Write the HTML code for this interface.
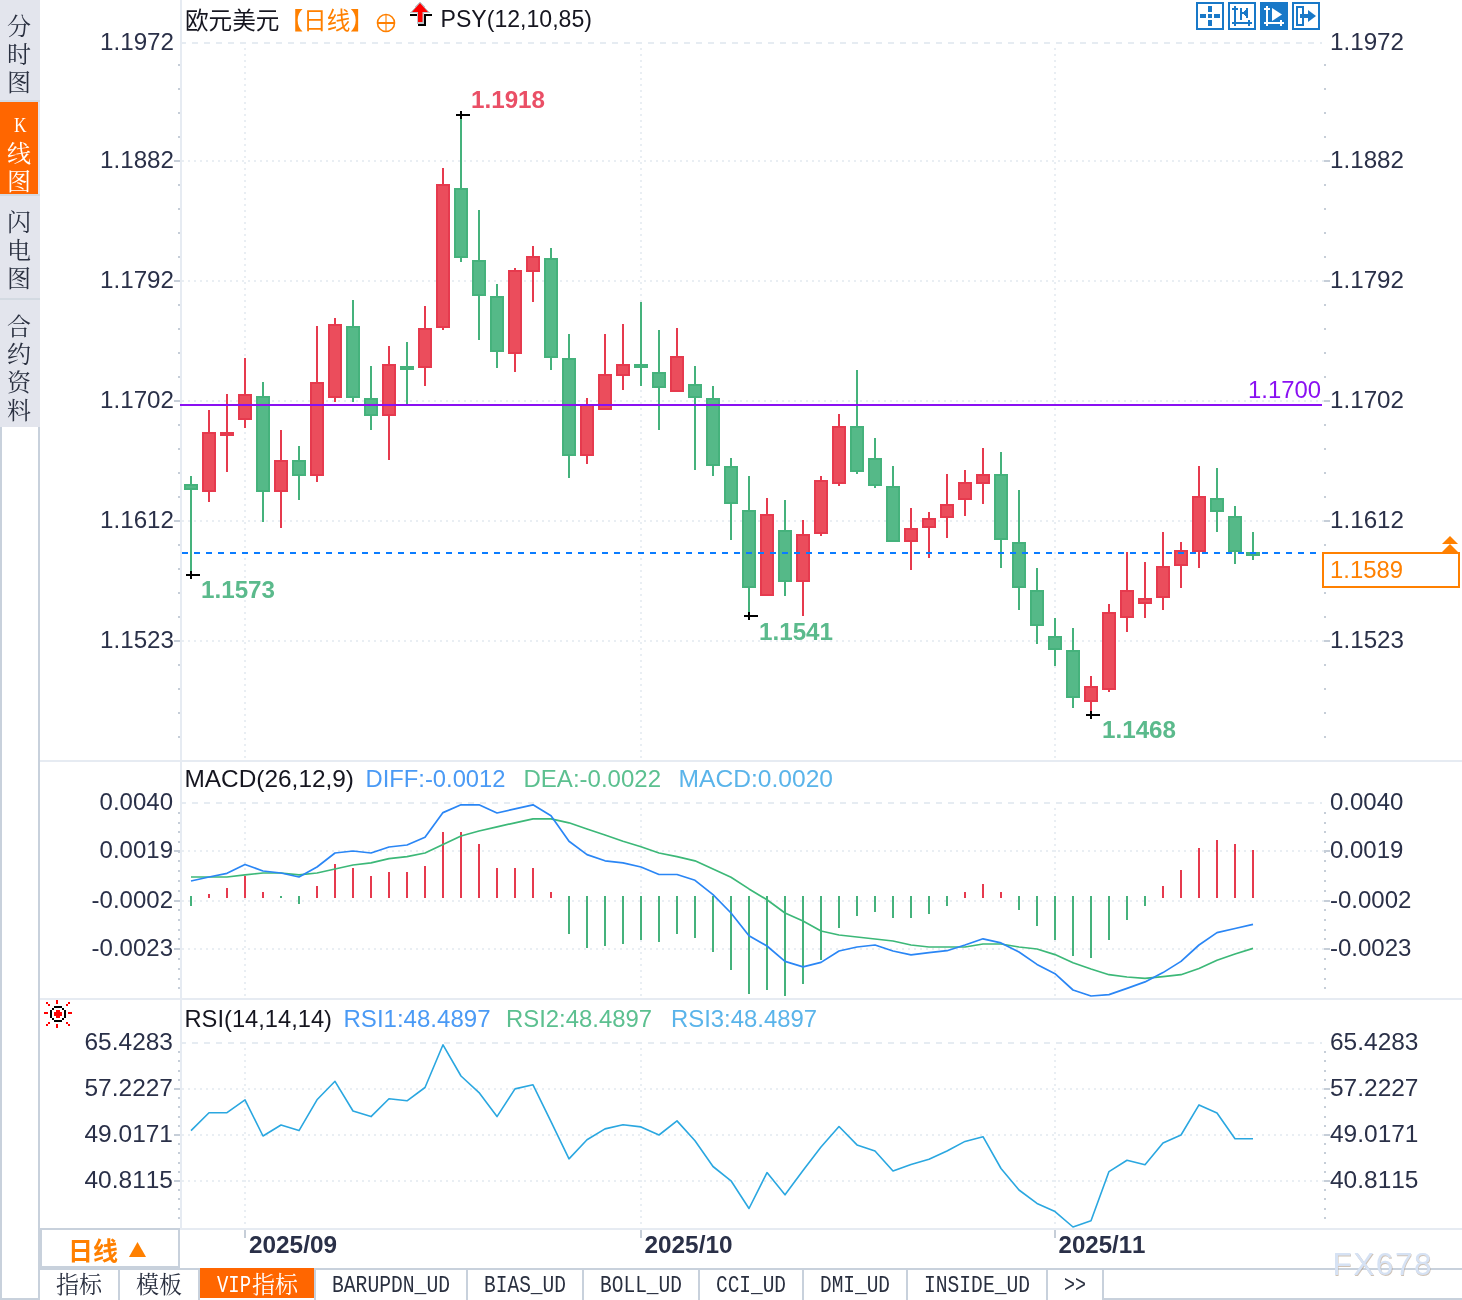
<!DOCTYPE html>
<html lang="zh-CN"><head><meta charset="utf-8"><title>欧元美元 日线</title>
<style>
html,body{margin:0;padding:0;background:#fff;}
body{width:1462px;height:1300px;overflow:hidden;}
svg{display:block;font-kerning:none;filter:blur(0.4px);}
text{font-kerning:none;white-space:pre;}
.ls{font-family:"Liberation Sans",sans-serif;}
.cjk{font-family:"Liberation Sans","Noto Sans CJK SC",sans-serif;}
.song{font-family:"Liberation Serif","Noto Serif CJK SC",serif;}
.mono{font-family:"Liberation Mono",monospace;}
</style></head><body>
<svg width="1462" height="1300" viewBox="0 0 1462 1300">
<rect x="0" y="0" width="1462" height="1300" fill="#ffffff"/>
<g shape-rendering="crispEdges">
<line x1="180" y1="43.0" x2="1322" y2="43.0" stroke="#e6ecf2" stroke-width="2" stroke-dasharray="6 6"/>
<line x1="182" y1="161.0" x2="1324" y2="161.0" stroke="#e9eef3" stroke-width="2" stroke-dasharray="2 4"/>
<line x1="182" y1="281.0" x2="1324" y2="281.0" stroke="#e9eef3" stroke-width="2" stroke-dasharray="2 4"/>
<line x1="182" y1="401.0" x2="1324" y2="401.0" stroke="#e9eef3" stroke-width="2" stroke-dasharray="2 4"/>
<line x1="182" y1="521.0" x2="1324" y2="521.0" stroke="#e9eef3" stroke-width="2" stroke-dasharray="2 4"/>
<line x1="182" y1="641.0" x2="1324" y2="641.0" stroke="#e9eef3" stroke-width="2" stroke-dasharray="2 4"/>
<line x1="180" y1="803.0" x2="1322" y2="803.0" stroke="#e6ecf2" stroke-width="2" stroke-dasharray="6 6"/>
<line x1="182" y1="851.0" x2="1324" y2="851.0" stroke="#e9eef3" stroke-width="2" stroke-dasharray="2 4"/>
<line x1="182" y1="901.0" x2="1324" y2="901.0" stroke="#e9eef3" stroke-width="2" stroke-dasharray="2 4"/>
<line x1="182" y1="949.0" x2="1324" y2="949.0" stroke="#e9eef3" stroke-width="2" stroke-dasharray="2 4"/>
<line x1="180" y1="1043.0" x2="1322" y2="1043.0" stroke="#e6ecf2" stroke-width="2" stroke-dasharray="6 6"/>
<line x1="182" y1="1089.0" x2="1324" y2="1089.0" stroke="#e9eef3" stroke-width="2" stroke-dasharray="2 4"/>
<line x1="182" y1="1135.0" x2="1324" y2="1135.0" stroke="#e9eef3" stroke-width="2" stroke-dasharray="2 4"/>
<line x1="182" y1="1181.0" x2="1324" y2="1181.0" stroke="#e9eef3" stroke-width="2" stroke-dasharray="2 4"/>
<line x1="245" y1="48" x2="245" y2="760" stroke="#e9eef3" stroke-width="2" stroke-dasharray="2 4"/>
<line x1="245" y1="808" x2="245" y2="998" stroke="#e9eef3" stroke-width="2" stroke-dasharray="2 4"/>
<line x1="245" y1="1048" x2="245" y2="1228" stroke="#e9eef3" stroke-width="2" stroke-dasharray="2 4"/>
<line x1="641" y1="48" x2="641" y2="760" stroke="#e9eef3" stroke-width="2" stroke-dasharray="2 4"/>
<line x1="641" y1="808" x2="641" y2="998" stroke="#e9eef3" stroke-width="2" stroke-dasharray="2 4"/>
<line x1="641" y1="1048" x2="641" y2="1228" stroke="#e9eef3" stroke-width="2" stroke-dasharray="2 4"/>
<line x1="1055" y1="48" x2="1055" y2="760" stroke="#e9eef3" stroke-width="2" stroke-dasharray="2 4"/>
<line x1="1055" y1="808" x2="1055" y2="998" stroke="#e9eef3" stroke-width="2" stroke-dasharray="2 4"/>
<line x1="1055" y1="1048" x2="1055" y2="1228" stroke="#e9eef3" stroke-width="2" stroke-dasharray="2 4"/>
<rect x="40" y="760" width="1422" height="2" fill="#e6ebf2"/>
<rect x="40" y="998" width="1422" height="2" fill="#e6ebf2"/>
<rect x="180" y="1228" width="1282" height="2" fill="#e6ebf2"/>
<rect x="180" y="0" width="2" height="1230" fill="#e6ebf2"/>
<rect x="178" y="64" width="2" height="2" fill="#c6ced8"/>
<rect x="1324" y="64" width="2" height="2" fill="#c6ced8"/>
<rect x="178" y="88" width="2" height="2" fill="#c6ced8"/>
<rect x="1324" y="88" width="2" height="2" fill="#c6ced8"/>
<rect x="178" y="112" width="2" height="2" fill="#c6ced8"/>
<rect x="1324" y="112" width="2" height="2" fill="#c6ced8"/>
<rect x="178" y="136" width="2" height="2" fill="#c6ced8"/>
<rect x="1324" y="136" width="2" height="2" fill="#c6ced8"/>
<rect x="178" y="160" width="2" height="2" fill="#c6ced8"/>
<rect x="1324" y="160" width="2" height="2" fill="#c6ced8"/>
<rect x="178" y="184" width="2" height="2" fill="#c6ced8"/>
<rect x="1324" y="184" width="2" height="2" fill="#c6ced8"/>
<rect x="178" y="208" width="2" height="2" fill="#c6ced8"/>
<rect x="1324" y="208" width="2" height="2" fill="#c6ced8"/>
<rect x="178" y="232" width="2" height="2" fill="#c6ced8"/>
<rect x="1324" y="232" width="2" height="2" fill="#c6ced8"/>
<rect x="178" y="256" width="2" height="2" fill="#c6ced8"/>
<rect x="1324" y="256" width="2" height="2" fill="#c6ced8"/>
<rect x="178" y="280" width="2" height="2" fill="#c6ced8"/>
<rect x="1324" y="280" width="2" height="2" fill="#c6ced8"/>
<rect x="178" y="304" width="2" height="2" fill="#c6ced8"/>
<rect x="1324" y="304" width="2" height="2" fill="#c6ced8"/>
<rect x="178" y="328" width="2" height="2" fill="#c6ced8"/>
<rect x="1324" y="328" width="2" height="2" fill="#c6ced8"/>
<rect x="178" y="352" width="2" height="2" fill="#c6ced8"/>
<rect x="1324" y="352" width="2" height="2" fill="#c6ced8"/>
<rect x="178" y="376" width="2" height="2" fill="#c6ced8"/>
<rect x="1324" y="376" width="2" height="2" fill="#c6ced8"/>
<rect x="178" y="400" width="2" height="2" fill="#c6ced8"/>
<rect x="1324" y="400" width="2" height="2" fill="#c6ced8"/>
<rect x="178" y="424" width="2" height="2" fill="#c6ced8"/>
<rect x="1324" y="424" width="2" height="2" fill="#c6ced8"/>
<rect x="178" y="448" width="2" height="2" fill="#c6ced8"/>
<rect x="1324" y="448" width="2" height="2" fill="#c6ced8"/>
<rect x="178" y="472" width="2" height="2" fill="#c6ced8"/>
<rect x="1324" y="472" width="2" height="2" fill="#c6ced8"/>
<rect x="178" y="496" width="2" height="2" fill="#c6ced8"/>
<rect x="1324" y="496" width="2" height="2" fill="#c6ced8"/>
<rect x="178" y="520" width="2" height="2" fill="#c6ced8"/>
<rect x="1324" y="520" width="2" height="2" fill="#c6ced8"/>
<rect x="178" y="544" width="2" height="2" fill="#c6ced8"/>
<rect x="1324" y="544" width="2" height="2" fill="#c6ced8"/>
<rect x="178" y="568" width="2" height="2" fill="#c6ced8"/>
<rect x="1324" y="568" width="2" height="2" fill="#c6ced8"/>
<rect x="178" y="592" width="2" height="2" fill="#c6ced8"/>
<rect x="1324" y="592" width="2" height="2" fill="#c6ced8"/>
<rect x="178" y="616" width="2" height="2" fill="#c6ced8"/>
<rect x="1324" y="616" width="2" height="2" fill="#c6ced8"/>
<rect x="178" y="640" width="2" height="2" fill="#c6ced8"/>
<rect x="1324" y="640" width="2" height="2" fill="#c6ced8"/>
<rect x="178" y="664" width="2" height="2" fill="#c6ced8"/>
<rect x="1324" y="664" width="2" height="2" fill="#c6ced8"/>
<rect x="178" y="688" width="2" height="2" fill="#c6ced8"/>
<rect x="1324" y="688" width="2" height="2" fill="#c6ced8"/>
<rect x="178" y="712" width="2" height="2" fill="#c6ced8"/>
<rect x="1324" y="712" width="2" height="2" fill="#c6ced8"/>
<rect x="178" y="736" width="2" height="2" fill="#c6ced8"/>
<rect x="1324" y="736" width="2" height="2" fill="#c6ced8"/>
<rect x="174" y="160" width="6" height="2" fill="#c6ced8"/>
<rect x="1324" y="160" width="6" height="2" fill="#c6ced8"/>
<rect x="174" y="280" width="6" height="2" fill="#c6ced8"/>
<rect x="1324" y="280" width="6" height="2" fill="#c6ced8"/>
<rect x="174" y="400" width="6" height="2" fill="#c6ced8"/>
<rect x="1324" y="400" width="6" height="2" fill="#c6ced8"/>
<rect x="174" y="520" width="6" height="2" fill="#c6ced8"/>
<rect x="1324" y="520" width="6" height="2" fill="#c6ced8"/>
<rect x="174" y="640" width="6" height="2" fill="#c6ced8"/>
<rect x="1324" y="640" width="6" height="2" fill="#c6ced8"/>
<rect x="178" y="812" width="2" height="2" fill="#c6ced8"/>
<rect x="1324" y="812" width="2" height="2" fill="#c6ced8"/>
<rect x="178" y="822" width="2" height="2" fill="#c6ced8"/>
<rect x="1324" y="822" width="2" height="2" fill="#c6ced8"/>
<rect x="178" y="831" width="2" height="2" fill="#c6ced8"/>
<rect x="1324" y="831" width="2" height="2" fill="#c6ced8"/>
<rect x="178" y="841" width="2" height="2" fill="#c6ced8"/>
<rect x="1324" y="841" width="2" height="2" fill="#c6ced8"/>
<rect x="178" y="851" width="2" height="2" fill="#c6ced8"/>
<rect x="1324" y="851" width="2" height="2" fill="#c6ced8"/>
<rect x="178" y="860" width="2" height="2" fill="#c6ced8"/>
<rect x="1324" y="860" width="2" height="2" fill="#c6ced8"/>
<rect x="178" y="870" width="2" height="2" fill="#c6ced8"/>
<rect x="1324" y="870" width="2" height="2" fill="#c6ced8"/>
<rect x="178" y="880" width="2" height="2" fill="#c6ced8"/>
<rect x="1324" y="880" width="2" height="2" fill="#c6ced8"/>
<rect x="178" y="890" width="2" height="2" fill="#c6ced8"/>
<rect x="1324" y="890" width="2" height="2" fill="#c6ced8"/>
<rect x="178" y="900" width="2" height="2" fill="#c6ced8"/>
<rect x="1324" y="900" width="2" height="2" fill="#c6ced8"/>
<rect x="178" y="909" width="2" height="2" fill="#c6ced8"/>
<rect x="1324" y="909" width="2" height="2" fill="#c6ced8"/>
<rect x="178" y="919" width="2" height="2" fill="#c6ced8"/>
<rect x="1324" y="919" width="2" height="2" fill="#c6ced8"/>
<rect x="178" y="929" width="2" height="2" fill="#c6ced8"/>
<rect x="1324" y="929" width="2" height="2" fill="#c6ced8"/>
<rect x="178" y="938" width="2" height="2" fill="#c6ced8"/>
<rect x="1324" y="938" width="2" height="2" fill="#c6ced8"/>
<rect x="178" y="948" width="2" height="2" fill="#c6ced8"/>
<rect x="1324" y="948" width="2" height="2" fill="#c6ced8"/>
<rect x="178" y="958" width="2" height="2" fill="#c6ced8"/>
<rect x="1324" y="958" width="2" height="2" fill="#c6ced8"/>
<rect x="178" y="968" width="2" height="2" fill="#c6ced8"/>
<rect x="1324" y="968" width="2" height="2" fill="#c6ced8"/>
<rect x="178" y="978" width="2" height="2" fill="#c6ced8"/>
<rect x="1324" y="978" width="2" height="2" fill="#c6ced8"/>
<rect x="178" y="987" width="2" height="2" fill="#c6ced8"/>
<rect x="1324" y="987" width="2" height="2" fill="#c6ced8"/>
<rect x="174" y="850" width="6" height="2" fill="#c6ced8"/>
<rect x="1324" y="850" width="6" height="2" fill="#c6ced8"/>
<rect x="174" y="900" width="6" height="2" fill="#c6ced8"/>
<rect x="1324" y="900" width="6" height="2" fill="#c6ced8"/>
<rect x="174" y="948" width="6" height="2" fill="#c6ced8"/>
<rect x="1324" y="948" width="6" height="2" fill="#c6ced8"/>
<rect x="178" y="1051" width="2" height="2" fill="#c6ced8"/>
<rect x="1324" y="1051" width="2" height="2" fill="#c6ced8"/>
<rect x="178" y="1060" width="2" height="2" fill="#c6ced8"/>
<rect x="1324" y="1060" width="2" height="2" fill="#c6ced8"/>
<rect x="178" y="1070" width="2" height="2" fill="#c6ced8"/>
<rect x="1324" y="1070" width="2" height="2" fill="#c6ced8"/>
<rect x="178" y="1079" width="2" height="2" fill="#c6ced8"/>
<rect x="1324" y="1079" width="2" height="2" fill="#c6ced8"/>
<rect x="178" y="1088" width="2" height="2" fill="#c6ced8"/>
<rect x="1324" y="1088" width="2" height="2" fill="#c6ced8"/>
<rect x="178" y="1097" width="2" height="2" fill="#c6ced8"/>
<rect x="1324" y="1097" width="2" height="2" fill="#c6ced8"/>
<rect x="178" y="1106" width="2" height="2" fill="#c6ced8"/>
<rect x="1324" y="1106" width="2" height="2" fill="#c6ced8"/>
<rect x="178" y="1116" width="2" height="2" fill="#c6ced8"/>
<rect x="1324" y="1116" width="2" height="2" fill="#c6ced8"/>
<rect x="178" y="1125" width="2" height="2" fill="#c6ced8"/>
<rect x="1324" y="1125" width="2" height="2" fill="#c6ced8"/>
<rect x="178" y="1134" width="2" height="2" fill="#c6ced8"/>
<rect x="1324" y="1134" width="2" height="2" fill="#c6ced8"/>
<rect x="178" y="1143" width="2" height="2" fill="#c6ced8"/>
<rect x="1324" y="1143" width="2" height="2" fill="#c6ced8"/>
<rect x="178" y="1152" width="2" height="2" fill="#c6ced8"/>
<rect x="1324" y="1152" width="2" height="2" fill="#c6ced8"/>
<rect x="178" y="1162" width="2" height="2" fill="#c6ced8"/>
<rect x="1324" y="1162" width="2" height="2" fill="#c6ced8"/>
<rect x="178" y="1171" width="2" height="2" fill="#c6ced8"/>
<rect x="1324" y="1171" width="2" height="2" fill="#c6ced8"/>
<rect x="178" y="1180" width="2" height="2" fill="#c6ced8"/>
<rect x="1324" y="1180" width="2" height="2" fill="#c6ced8"/>
<rect x="178" y="1189" width="2" height="2" fill="#c6ced8"/>
<rect x="1324" y="1189" width="2" height="2" fill="#c6ced8"/>
<rect x="178" y="1198" width="2" height="2" fill="#c6ced8"/>
<rect x="1324" y="1198" width="2" height="2" fill="#c6ced8"/>
<rect x="178" y="1208" width="2" height="2" fill="#c6ced8"/>
<rect x="1324" y="1208" width="2" height="2" fill="#c6ced8"/>
<rect x="178" y="1217" width="2" height="2" fill="#c6ced8"/>
<rect x="1324" y="1217" width="2" height="2" fill="#c6ced8"/>
<rect x="174" y="1088" width="6" height="2" fill="#c6ced8"/>
<rect x="1324" y="1088" width="6" height="2" fill="#c6ced8"/>
<rect x="174" y="1134" width="6" height="2" fill="#c6ced8"/>
<rect x="1324" y="1134" width="6" height="2" fill="#c6ced8"/>
<rect x="174" y="1180" width="6" height="2" fill="#c6ced8"/>
<rect x="1324" y="1180" width="6" height="2" fill="#c6ced8"/>
</g>
<g shape-rendering="crispEdges">
<rect x="190" y="476" width="2" height="99" fill="#45b27c"/>
<rect x="185" y="485" width="12" height="4" fill="#55b988" stroke="#45b27c" stroke-width="2"/>
<rect x="208" y="410" width="2" height="92" fill="#e63a4e"/>
<rect x="203" y="433" width="12" height="58" fill="#eb4d5c" stroke="#e63a4e" stroke-width="2"/>
<rect x="226" y="394" width="2" height="78" fill="#e63a4e"/>
<rect x="221" y="433" width="12" height="2" fill="#eb4d5c" stroke="#e63a4e" stroke-width="2"/>
<rect x="244" y="358" width="2" height="70" fill="#e63a4e"/>
<rect x="239" y="395" width="12" height="24" fill="#eb4d5c" stroke="#e63a4e" stroke-width="2"/>
<rect x="262" y="382" width="2" height="140" fill="#45b27c"/>
<rect x="257" y="397" width="12" height="94" fill="#55b988" stroke="#45b27c" stroke-width="2"/>
<rect x="280" y="430" width="2" height="98" fill="#e63a4e"/>
<rect x="275" y="461" width="12" height="30" fill="#eb4d5c" stroke="#e63a4e" stroke-width="2"/>
<rect x="298" y="446" width="2" height="54" fill="#45b27c"/>
<rect x="293" y="461" width="12" height="14" fill="#55b988" stroke="#45b27c" stroke-width="2"/>
<rect x="316" y="326" width="2" height="156" fill="#e63a4e"/>
<rect x="311" y="383" width="12" height="92" fill="#eb4d5c" stroke="#e63a4e" stroke-width="2"/>
<rect x="334" y="318" width="2" height="84" fill="#e63a4e"/>
<rect x="329" y="325" width="12" height="72" fill="#eb4d5c" stroke="#e63a4e" stroke-width="2"/>
<rect x="352" y="300" width="2" height="102" fill="#45b27c"/>
<rect x="347" y="327" width="12" height="70" fill="#55b988" stroke="#45b27c" stroke-width="2"/>
<rect x="370" y="366" width="2" height="64" fill="#45b27c"/>
<rect x="365" y="399" width="12" height="16" fill="#55b988" stroke="#45b27c" stroke-width="2"/>
<rect x="388" y="346" width="2" height="114" fill="#e63a4e"/>
<rect x="383" y="365" width="12" height="50" fill="#eb4d5c" stroke="#e63a4e" stroke-width="2"/>
<rect x="406" y="342" width="2" height="62" fill="#45b27c"/>
<rect x="401" y="367" width="12" height="2" fill="#55b988" stroke="#45b27c" stroke-width="2"/>
<rect x="424" y="306" width="2" height="80" fill="#e63a4e"/>
<rect x="419" y="329" width="12" height="38" fill="#eb4d5c" stroke="#e63a4e" stroke-width="2"/>
<rect x="442" y="168" width="2" height="162" fill="#e63a4e"/>
<rect x="437" y="185" width="12" height="142" fill="#eb4d5c" stroke="#e63a4e" stroke-width="2"/>
<rect x="460" y="115" width="2" height="147" fill="#45b27c"/>
<rect x="455" y="189" width="12" height="68" fill="#55b988" stroke="#45b27c" stroke-width="2"/>
<rect x="478" y="210" width="2" height="130" fill="#45b27c"/>
<rect x="473" y="261" width="12" height="34" fill="#55b988" stroke="#45b27c" stroke-width="2"/>
<rect x="496" y="284" width="2" height="84" fill="#45b27c"/>
<rect x="491" y="297" width="12" height="54" fill="#55b988" stroke="#45b27c" stroke-width="2"/>
<rect x="514" y="268" width="2" height="104" fill="#e63a4e"/>
<rect x="509" y="271" width="12" height="82" fill="#eb4d5c" stroke="#e63a4e" stroke-width="2"/>
<rect x="532" y="246" width="2" height="56" fill="#e63a4e"/>
<rect x="527" y="257" width="12" height="14" fill="#eb4d5c" stroke="#e63a4e" stroke-width="2"/>
<rect x="550" y="248" width="2" height="122" fill="#45b27c"/>
<rect x="545" y="259" width="12" height="98" fill="#55b988" stroke="#45b27c" stroke-width="2"/>
<rect x="568" y="334" width="2" height="144" fill="#45b27c"/>
<rect x="563" y="359" width="12" height="96" fill="#55b988" stroke="#45b27c" stroke-width="2"/>
<rect x="586" y="398" width="2" height="66" fill="#e63a4e"/>
<rect x="581" y="405" width="12" height="50" fill="#eb4d5c" stroke="#e63a4e" stroke-width="2"/>
<rect x="604" y="334" width="2" height="76" fill="#e63a4e"/>
<rect x="599" y="375" width="12" height="34" fill="#eb4d5c" stroke="#e63a4e" stroke-width="2"/>
<rect x="622" y="324" width="2" height="66" fill="#e63a4e"/>
<rect x="617" y="365" width="12" height="10" fill="#eb4d5c" stroke="#e63a4e" stroke-width="2"/>
<rect x="640" y="302" width="2" height="84" fill="#45b27c"/>
<rect x="635" y="365" width="12" height="2" fill="#55b988" stroke="#45b27c" stroke-width="2"/>
<rect x="658" y="330" width="2" height="100" fill="#45b27c"/>
<rect x="653" y="373" width="12" height="14" fill="#55b988" stroke="#45b27c" stroke-width="2"/>
<rect x="676" y="328" width="2" height="64" fill="#e63a4e"/>
<rect x="671" y="357" width="12" height="34" fill="#eb4d5c" stroke="#e63a4e" stroke-width="2"/>
<rect x="694" y="366" width="2" height="104" fill="#45b27c"/>
<rect x="689" y="385" width="12" height="12" fill="#55b988" stroke="#45b27c" stroke-width="2"/>
<rect x="712" y="386" width="2" height="90" fill="#45b27c"/>
<rect x="707" y="399" width="12" height="66" fill="#55b988" stroke="#45b27c" stroke-width="2"/>
<rect x="730" y="458" width="2" height="82" fill="#45b27c"/>
<rect x="725" y="467" width="12" height="36" fill="#55b988" stroke="#45b27c" stroke-width="2"/>
<rect x="748" y="476" width="2" height="140" fill="#45b27c"/>
<rect x="743" y="511" width="12" height="76" fill="#55b988" stroke="#45b27c" stroke-width="2"/>
<rect x="766" y="498" width="2" height="98" fill="#e63a4e"/>
<rect x="761" y="515" width="12" height="80" fill="#eb4d5c" stroke="#e63a4e" stroke-width="2"/>
<rect x="784" y="500" width="2" height="96" fill="#45b27c"/>
<rect x="779" y="531" width="12" height="50" fill="#55b988" stroke="#45b27c" stroke-width="2"/>
<rect x="802" y="520" width="2" height="96" fill="#e63a4e"/>
<rect x="797" y="535" width="12" height="46" fill="#eb4d5c" stroke="#e63a4e" stroke-width="2"/>
<rect x="820" y="476" width="2" height="60" fill="#e63a4e"/>
<rect x="815" y="481" width="12" height="52" fill="#eb4d5c" stroke="#e63a4e" stroke-width="2"/>
<rect x="838" y="414" width="2" height="72" fill="#e63a4e"/>
<rect x="833" y="427" width="12" height="56" fill="#eb4d5c" stroke="#e63a4e" stroke-width="2"/>
<rect x="856" y="370" width="2" height="104" fill="#45b27c"/>
<rect x="851" y="427" width="12" height="44" fill="#55b988" stroke="#45b27c" stroke-width="2"/>
<rect x="874" y="438" width="2" height="50" fill="#45b27c"/>
<rect x="869" y="459" width="12" height="26" fill="#55b988" stroke="#45b27c" stroke-width="2"/>
<rect x="892" y="466" width="2" height="76" fill="#45b27c"/>
<rect x="887" y="487" width="12" height="54" fill="#55b988" stroke="#45b27c" stroke-width="2"/>
<rect x="910" y="508" width="2" height="62" fill="#e63a4e"/>
<rect x="905" y="529" width="12" height="12" fill="#eb4d5c" stroke="#e63a4e" stroke-width="2"/>
<rect x="928" y="512" width="2" height="46" fill="#e63a4e"/>
<rect x="923" y="519" width="12" height="8" fill="#eb4d5c" stroke="#e63a4e" stroke-width="2"/>
<rect x="946" y="474" width="2" height="64" fill="#e63a4e"/>
<rect x="941" y="505" width="12" height="12" fill="#eb4d5c" stroke="#e63a4e" stroke-width="2"/>
<rect x="964" y="470" width="2" height="46" fill="#e63a4e"/>
<rect x="959" y="483" width="12" height="16" fill="#eb4d5c" stroke="#e63a4e" stroke-width="2"/>
<rect x="982" y="448" width="2" height="56" fill="#e63a4e"/>
<rect x="977" y="475" width="12" height="8" fill="#eb4d5c" stroke="#e63a4e" stroke-width="2"/>
<rect x="1000" y="452" width="2" height="116" fill="#45b27c"/>
<rect x="995" y="475" width="12" height="64" fill="#55b988" stroke="#45b27c" stroke-width="2"/>
<rect x="1018" y="490" width="2" height="120" fill="#45b27c"/>
<rect x="1013" y="543" width="12" height="44" fill="#55b988" stroke="#45b27c" stroke-width="2"/>
<rect x="1036" y="568" width="2" height="76" fill="#45b27c"/>
<rect x="1031" y="591" width="12" height="34" fill="#55b988" stroke="#45b27c" stroke-width="2"/>
<rect x="1054" y="618" width="2" height="48" fill="#45b27c"/>
<rect x="1049" y="637" width="12" height="12" fill="#55b988" stroke="#45b27c" stroke-width="2"/>
<rect x="1072" y="628" width="2" height="80" fill="#45b27c"/>
<rect x="1067" y="651" width="12" height="46" fill="#55b988" stroke="#45b27c" stroke-width="2"/>
<rect x="1090" y="676" width="2" height="39" fill="#e63a4e"/>
<rect x="1085" y="687" width="12" height="14" fill="#eb4d5c" stroke="#e63a4e" stroke-width="2"/>
<rect x="1108" y="604" width="2" height="88" fill="#e63a4e"/>
<rect x="1103" y="613" width="12" height="76" fill="#eb4d5c" stroke="#e63a4e" stroke-width="2"/>
<rect x="1126" y="552" width="2" height="80" fill="#e63a4e"/>
<rect x="1121" y="591" width="12" height="26" fill="#eb4d5c" stroke="#e63a4e" stroke-width="2"/>
<rect x="1144" y="562" width="2" height="56" fill="#e63a4e"/>
<rect x="1139" y="599" width="12" height="4" fill="#eb4d5c" stroke="#e63a4e" stroke-width="2"/>
<rect x="1162" y="532" width="2" height="78" fill="#e63a4e"/>
<rect x="1157" y="567" width="12" height="30" fill="#eb4d5c" stroke="#e63a4e" stroke-width="2"/>
<rect x="1180" y="542" width="2" height="46" fill="#e63a4e"/>
<rect x="1175" y="551" width="12" height="14" fill="#eb4d5c" stroke="#e63a4e" stroke-width="2"/>
<rect x="1198" y="466" width="2" height="102" fill="#e63a4e"/>
<rect x="1193" y="497" width="12" height="54" fill="#eb4d5c" stroke="#e63a4e" stroke-width="2"/>
<rect x="1216" y="468" width="2" height="64" fill="#45b27c"/>
<rect x="1211" y="499" width="12" height="12" fill="#55b988" stroke="#45b27c" stroke-width="2"/>
<rect x="1234" y="506" width="2" height="58" fill="#45b27c"/>
<rect x="1229" y="517" width="12" height="34" fill="#55b988" stroke="#45b27c" stroke-width="2"/>
<rect x="1252" y="532" width="2" height="28" fill="#45b27c"/>
<rect x="1247" y="553" width="12" height="2" fill="#55b988" stroke="#45b27c" stroke-width="2"/>
</g>
<g shape-rendering="crispEdges">
<rect x="180" y="404" width="1142" height="2" fill="#8a10f2"/>
<line x1="182" y1="553.0" x2="1322" y2="553.0" stroke="#0a7cff" stroke-width="2" stroke-dasharray="6 6"/>
</g>
<rect x="456" y="114" width="14" height="2" fill="#000" shape-rendering="crispEdges"/>
<rect x="460" y="111" width="2" height="8" fill="#000" shape-rendering="crispEdges"/>
<rect x="186" y="574" width="14" height="2" fill="#000" shape-rendering="crispEdges"/>
<rect x="190" y="571" width="2" height="8" fill="#000" shape-rendering="crispEdges"/>
<rect x="744" y="615" width="14" height="2" fill="#000" shape-rendering="crispEdges"/>
<rect x="748" y="612" width="2" height="8" fill="#000" shape-rendering="crispEdges"/>
<rect x="1086" y="714" width="14" height="2" fill="#000" shape-rendering="crispEdges"/>
<rect x="1090" y="711" width="2" height="8" fill="#000" shape-rendering="crispEdges"/>
<text x="471" y="108" font-size="24" fill="#ea4f66" text-anchor="start" font-weight="bold" class="ls" textLength="74" lengthAdjust="spacingAndGlyphs">1.1918</text>
<text x="201" y="598" font-size="24" fill="#5bba8c" text-anchor="start" font-weight="bold" class="ls" textLength="74" lengthAdjust="spacingAndGlyphs">1.1573</text>
<text x="759" y="640" font-size="24" fill="#5bba8c" text-anchor="start" font-weight="bold" class="ls" textLength="74" lengthAdjust="spacingAndGlyphs">1.1541</text>
<text x="1102" y="738" font-size="24" fill="#5bba8c" text-anchor="start" font-weight="bold" class="ls" textLength="74" lengthAdjust="spacingAndGlyphs">1.1468</text>
<text x="1321" y="398" font-size="24" fill="#8a10f2" text-anchor="end" font-weight="normal" class="ls" textLength="73" lengthAdjust="spacingAndGlyphs">1.1700</text>
<g shape-rendering="crispEdges">
<rect x="190" y="896" width="2" height="10" fill="#45b27c"/>
<rect x="208" y="894" width="2" height="4" fill="#e63a4e"/>
<rect x="226" y="888" width="2" height="10" fill="#e63a4e"/>
<rect x="244" y="876" width="2" height="22" fill="#e63a4e"/>
<rect x="262" y="892" width="2" height="6" fill="#e63a4e"/>
<rect x="280" y="896" width="2" height="2" fill="#45b27c"/>
<rect x="298" y="896" width="2" height="8" fill="#45b27c"/>
<rect x="316" y="886" width="2" height="12" fill="#e63a4e"/>
<rect x="334" y="864" width="2" height="34" fill="#e63a4e"/>
<rect x="352" y="868" width="2" height="30" fill="#e63a4e"/>
<rect x="370" y="876" width="2" height="22" fill="#e63a4e"/>
<rect x="388" y="872" width="2" height="26" fill="#e63a4e"/>
<rect x="406" y="872" width="2" height="26" fill="#e63a4e"/>
<rect x="424" y="866" width="2" height="32" fill="#e63a4e"/>
<rect x="442" y="832" width="2" height="66" fill="#e63a4e"/>
<rect x="460" y="832" width="2" height="66" fill="#e63a4e"/>
<rect x="478" y="844" width="2" height="54" fill="#e63a4e"/>
<rect x="496" y="868" width="2" height="30" fill="#e63a4e"/>
<rect x="514" y="868" width="2" height="30" fill="#e63a4e"/>
<rect x="532" y="868" width="2" height="30" fill="#e63a4e"/>
<rect x="550" y="892" width="2" height="6" fill="#e63a4e"/>
<rect x="568" y="896" width="2" height="38" fill="#45b27c"/>
<rect x="586" y="896" width="2" height="52" fill="#45b27c"/>
<rect x="604" y="896" width="2" height="50" fill="#45b27c"/>
<rect x="622" y="896" width="2" height="48" fill="#45b27c"/>
<rect x="640" y="896" width="2" height="44" fill="#45b27c"/>
<rect x="658" y="896" width="2" height="46" fill="#45b27c"/>
<rect x="676" y="896" width="2" height="38" fill="#45b27c"/>
<rect x="694" y="896" width="2" height="42" fill="#45b27c"/>
<rect x="712" y="896" width="2" height="56" fill="#45b27c"/>
<rect x="730" y="896" width="2" height="74" fill="#45b27c"/>
<rect x="748" y="896" width="2" height="98" fill="#45b27c"/>
<rect x="766" y="896" width="2" height="94" fill="#45b27c"/>
<rect x="784" y="896" width="2" height="100" fill="#45b27c"/>
<rect x="802" y="896" width="2" height="88" fill="#45b27c"/>
<rect x="820" y="896" width="2" height="64" fill="#45b27c"/>
<rect x="838" y="896" width="2" height="32" fill="#45b27c"/>
<rect x="856" y="896" width="2" height="20" fill="#45b27c"/>
<rect x="874" y="896" width="2" height="16" fill="#45b27c"/>
<rect x="892" y="896" width="2" height="22" fill="#45b27c"/>
<rect x="910" y="896" width="2" height="22" fill="#45b27c"/>
<rect x="928" y="896" width="2" height="18" fill="#45b27c"/>
<rect x="946" y="896" width="2" height="10" fill="#45b27c"/>
<rect x="964" y="892" width="2" height="6" fill="#e63a4e"/>
<rect x="982" y="884" width="2" height="14" fill="#e63a4e"/>
<rect x="1000" y="892" width="2" height="6" fill="#e63a4e"/>
<rect x="1018" y="896" width="2" height="14" fill="#45b27c"/>
<rect x="1036" y="896" width="2" height="30" fill="#45b27c"/>
<rect x="1054" y="896" width="2" height="44" fill="#45b27c"/>
<rect x="1072" y="896" width="2" height="60" fill="#45b27c"/>
<rect x="1090" y="896" width="2" height="62" fill="#45b27c"/>
<rect x="1108" y="896" width="2" height="44" fill="#45b27c"/>
<rect x="1126" y="896" width="2" height="24" fill="#45b27c"/>
<rect x="1144" y="896" width="2" height="10" fill="#45b27c"/>
<rect x="1162" y="886" width="2" height="12" fill="#e63a4e"/>
<rect x="1180" y="870" width="2" height="28" fill="#e63a4e"/>
<rect x="1198" y="848" width="2" height="50" fill="#e63a4e"/>
<rect x="1216" y="840" width="2" height="58" fill="#e63a4e"/>
<rect x="1234" y="844" width="2" height="54" fill="#e63a4e"/>
<rect x="1252" y="850" width="2" height="48" fill="#e63a4e"/>
</g>
<polyline points="191,877 209,877 227,877 245,874.8 263,873 281,873 299,874.8 317,873 335,869 353,865 371,862.8 389,858.7 407,856.7 425,853 443,844.4 461,836 479,831 497,826.9 515,822.8 533,818.9 551,818.9 569,822.8 587,829 605,835 623,841.3 641,846.8 659,853 677,856.7 695,860.8 713,869 731,877.2 749,888.9 767,899.8 785,913 803,921 821,931 839,935 857,937 875,939 893,941 911,945 929,947 947,947 965,947 983,944 1001,944 1019,947 1037,949 1055,954.6 1073,962.8 1091,969 1109,974.7 1127,977 1145,978.4 1163,976.7 1181,974.7 1199,968.5 1217,960.3 1235,954 1253,948.4" fill="none" stroke="#3cb878" stroke-width="1.7" stroke-linejoin="round"/>
<polyline points="191,881 209,877 227,873.3 245,864.5 263,871 281,873 299,877 317,867 335,853 353,851 371,853 389,847 407,845 425,837.2 443,812.6 461,804.8 479,804.8 497,813 515,808.9 533,804.8 551,815.7 569,841.3 587,854.6 605,860.8 623,862.9 641,867 659,874.5 677,874.5 695,880.3 713,894.7 731,913 749,935.7 767,946 785,961.4 803,966.9 821,962.4 839,951 857,947 875,945 893,951 911,954.8 929,952.7 947,950.7 965,945 983,938.8 1001,942.9 1019,952 1037,964.4 1055,973.7 1073,990 1091,996 1109,994.6 1127,988.4 1145,981.9 1163,972.6 1181,961.4 1199,945 1217,932.6 1235,928.5 1253,924.4" fill="none" stroke="#2a86f5" stroke-width="1.7" stroke-linejoin="round"/>
<polyline points="191,1130.6 209,1112.7 227,1112.7 245,1099.8 263,1136 281,1125 299,1130.6 317,1099.8 335,1081.3 353,1111 371,1116.6 389,1098.7 407,1100.8 425,1087.5 443,1044.8 461,1076 479,1092.6 497,1116.6 515,1088.9 533,1084.8 551,1121.7 569,1158.9 587,1139.8 605,1128.9 623,1124.8 641,1126.9 659,1135 677,1120.9 695,1140.8 713,1166.5 731,1180.8 749,1208.5 767,1172.6 785,1194.8 803,1170.6 821,1147 839,1126.5 857,1144.9 875,1151 893,1171 911,1164.4 929,1159.3 947,1151 965,1141.4 983,1136.7 1001,1168.5 1019,1190 1037,1203.4 1055,1211.6 1073,1227 1091,1220.8 1109,1171.6 1127,1160.3 1145,1164.8 1163,1142.9 1181,1135 1199,1104.9 1217,1113 1235,1138.8 1253,1138.8" fill="none" stroke="#2aa7e0" stroke-width="1.6" stroke-linejoin="round"/>
<text x="174" y="50" font-size="24" fill="#2a3048" text-anchor="end" font-weight="normal" class="ls" textLength="74" lengthAdjust="spacingAndGlyphs">1.1972</text>
<text x="1330" y="50" font-size="24" fill="#2a3048" text-anchor="start" font-weight="normal" class="ls" textLength="74" lengthAdjust="spacingAndGlyphs">1.1972</text>
<text x="174" y="168" font-size="24" fill="#2a3048" text-anchor="end" font-weight="normal" class="ls" textLength="74" lengthAdjust="spacingAndGlyphs">1.1882</text>
<text x="1330" y="168" font-size="24" fill="#2a3048" text-anchor="start" font-weight="normal" class="ls" textLength="74" lengthAdjust="spacingAndGlyphs">1.1882</text>
<text x="174" y="288" font-size="24" fill="#2a3048" text-anchor="end" font-weight="normal" class="ls" textLength="74" lengthAdjust="spacingAndGlyphs">1.1792</text>
<text x="1330" y="288" font-size="24" fill="#2a3048" text-anchor="start" font-weight="normal" class="ls" textLength="74" lengthAdjust="spacingAndGlyphs">1.1792</text>
<text x="174" y="408" font-size="24" fill="#2a3048" text-anchor="end" font-weight="normal" class="ls" textLength="74" lengthAdjust="spacingAndGlyphs">1.1702</text>
<text x="1330" y="408" font-size="24" fill="#2a3048" text-anchor="start" font-weight="normal" class="ls" textLength="74" lengthAdjust="spacingAndGlyphs">1.1702</text>
<text x="174" y="528" font-size="24" fill="#2a3048" text-anchor="end" font-weight="normal" class="ls" textLength="74" lengthAdjust="spacingAndGlyphs">1.1612</text>
<text x="1330" y="528" font-size="24" fill="#2a3048" text-anchor="start" font-weight="normal" class="ls" textLength="74" lengthAdjust="spacingAndGlyphs">1.1612</text>
<text x="174" y="648" font-size="24" fill="#2a3048" text-anchor="end" font-weight="normal" class="ls" textLength="74" lengthAdjust="spacingAndGlyphs">1.1523</text>
<text x="1330" y="648" font-size="24" fill="#2a3048" text-anchor="start" font-weight="normal" class="ls" textLength="74" lengthAdjust="spacingAndGlyphs">1.1523</text>
<text x="173" y="810" font-size="24" fill="#2a3048" text-anchor="end" font-weight="normal" class="ls">0.0040</text>
<text x="1330" y="810" font-size="24" fill="#2a3048" text-anchor="start" font-weight="normal" class="ls">0.0040</text>
<text x="173" y="858" font-size="24" fill="#2a3048" text-anchor="end" font-weight="normal" class="ls">0.0019</text>
<text x="1330" y="858" font-size="24" fill="#2a3048" text-anchor="start" font-weight="normal" class="ls">0.0019</text>
<text x="173" y="908" font-size="24" fill="#2a3048" text-anchor="end" font-weight="normal" class="ls">-0.0002</text>
<text x="1330" y="908" font-size="24" fill="#2a3048" text-anchor="start" font-weight="normal" class="ls">-0.0002</text>
<text x="173" y="956" font-size="24" fill="#2a3048" text-anchor="end" font-weight="normal" class="ls">-0.0023</text>
<text x="1330" y="956" font-size="24" fill="#2a3048" text-anchor="start" font-weight="normal" class="ls">-0.0023</text>
<text x="173" y="1050" font-size="24" fill="#2a3048" text-anchor="end" font-weight="normal" class="ls" textLength="88.5" lengthAdjust="spacingAndGlyphs">65.4283</text>
<text x="1330" y="1050" font-size="24" fill="#2a3048" text-anchor="start" font-weight="normal" class="ls" textLength="88.5" lengthAdjust="spacingAndGlyphs">65.4283</text>
<text x="173" y="1096" font-size="24" fill="#2a3048" text-anchor="end" font-weight="normal" class="ls" textLength="88.5" lengthAdjust="spacingAndGlyphs">57.2227</text>
<text x="1330" y="1096" font-size="24" fill="#2a3048" text-anchor="start" font-weight="normal" class="ls" textLength="88.5" lengthAdjust="spacingAndGlyphs">57.2227</text>
<text x="173" y="1142" font-size="24" fill="#2a3048" text-anchor="end" font-weight="normal" class="ls" textLength="88.5" lengthAdjust="spacingAndGlyphs">49.0171</text>
<text x="1330" y="1142" font-size="24" fill="#2a3048" text-anchor="start" font-weight="normal" class="ls" textLength="88.5" lengthAdjust="spacingAndGlyphs">49.0171</text>
<text x="173" y="1188" font-size="24" fill="#2a3048" text-anchor="end" font-weight="normal" class="ls" textLength="88.5" lengthAdjust="spacingAndGlyphs">40.8115</text>
<text x="1330" y="1188" font-size="24" fill="#2a3048" text-anchor="start" font-weight="normal" class="ls" textLength="88.5" lengthAdjust="spacingAndGlyphs">40.8115</text>
<rect x="1323" y="553" width="136" height="34" fill="#fff" stroke="#ff8000" stroke-width="2" shape-rendering="crispEdges"/>
<text x="1330" y="578" font-size="24" fill="#ff8000" text-anchor="start" font-weight="normal" class="ls" textLength="73" lengthAdjust="spacingAndGlyphs">1.1589</text>
<path d="M1450 536 L1458 544 L1442 544 Z M1450 544 L1458 552 L1442 552 Z" fill="#ff8000"/>
<text x="185" y="29" font-size="24" class="cjk" fill="#15151f" textLength="189" lengthAdjust="spacingAndGlyphs">欧元美元<tspan fill="#ff8000">【日线】</tspan></text>
<g stroke="#ff8000" fill="none"><circle cx="386" cy="23" r="8.5" stroke-width="1.6"/><line x1="378" y1="23" x2="394" y2="23" stroke-width="2"/><line x1="386" y1="15" x2="386" y2="31" stroke-width="1.6" opacity=".7"/></g>
<g shape-rendering="crispEdges">
<path d="M410 14 H432 V16 H426 V26 H418 V24 H424 V16 H410 Z" fill="#000"/>
<path d="M420 1 L430 13 L424 13 L424 24 L417 24 L417 13 L410 13 Z" fill="#c0c4c8"/>
</g>
<path d="M420 3 L428 12 L422.5 12 L422.5 22 L418 22 L418 12 L412 12 Z" fill="#ff0000"/>
<text x="440.5" y="27" font-size="24" fill="#15151f" text-anchor="start" font-weight="normal" class="ls" textLength="151.5" lengthAdjust="spacingAndGlyphs">PSY(12,10,85)</text>
<text x="184.5" y="787" font-size="24" fill="#15151f" text-anchor="start" font-weight="normal" class="ls" textLength="169.5" lengthAdjust="spacingAndGlyphs">MACD(26,12,9)</text>
<text x="365.5" y="787" font-size="24" fill="#4a9af5" text-anchor="start" font-weight="normal" class="ls" textLength="140" lengthAdjust="spacingAndGlyphs">DIFF:-0.0012</text>
<text x="523.5" y="787" font-size="24" fill="#5cc090" text-anchor="start" font-weight="normal" class="ls" textLength="137.5" lengthAdjust="spacingAndGlyphs">DEA:-0.0022</text>
<text x="678.5" y="787" font-size="24" fill="#5ab4ea" text-anchor="start" font-weight="normal" class="ls" textLength="154.5" lengthAdjust="spacingAndGlyphs">MACD:0.0020</text>
<text x="184.5" y="1027" font-size="24" fill="#15151f" text-anchor="start" font-weight="normal" class="ls" textLength="147.5" lengthAdjust="spacingAndGlyphs">RSI(14,14,14)</text>
<text x="343.5" y="1027" font-size="24" fill="#4a9af5" text-anchor="start" font-weight="normal" class="ls" textLength="147" lengthAdjust="spacingAndGlyphs">RSI1:48.4897</text>
<text x="506" y="1027" font-size="24" fill="#5cc090" text-anchor="start" font-weight="normal" class="ls" textLength="146" lengthAdjust="spacingAndGlyphs">RSI2:48.4897</text>
<text x="671" y="1027" font-size="24" fill="#5ab4ea" text-anchor="start" font-weight="normal" class="ls" textLength="146" lengthAdjust="spacingAndGlyphs">RSI3:48.4897</text>
<g shape-rendering="crispEdges" fill="#1878c8">
<rect x="1197" y="3" width="26" height="26" fill="#fff" stroke="#1878c8" stroke-width="2"/>
<rect x="1229" y="3" width="26" height="26" fill="#fff" stroke="#1878c8" stroke-width="2"/>
<rect x="1293" y="3" width="26" height="26" fill="#fff" stroke="#1878c8" stroke-width="2"/>
<rect x="1260" y="2" width="28" height="28" fill="#1878c8"/>
<rect x="1208" y="6" width="4" height="6" fill="#1878c8"/>
<rect x="1208" y="14" width="4" height="4" fill="#1878c8"/>
<rect x="1208" y="20" width="4" height="6" fill="#1878c8"/>
<rect x="1200" y="14" width="6" height="4" fill="#1878c8"/>
<rect x="1214" y="14" width="6" height="4" fill="#1878c8"/>
<rect x="1234" y="6" width="2" height="20" fill="#1878c8"/>
<rect x="1232" y="8" width="6" height="2" fill="#1878c8"/>
<rect x="1232" y="22" width="20" height="2" fill="#1878c8"/>
<rect x="1248" y="20" width="2" height="6" fill="#1878c8"/>
<rect x="1240" y="8" width="2" height="12" fill="#1878c8"/>
<rect x="1246" y="8" width="2" height="10" fill="#1878c8"/>
<path d="M1242 13 L1246 9 L1246 17 Z" fill="#1878c8"/>
<rect x="1242" y="12" width="4" height="2" fill="#1878c8"/>
<rect x="1266" y="6" width="2" height="20" fill="#fff"/>
<rect x="1264" y="8" width="6" height="2" fill="#fff"/>
<rect x="1264" y="22" width="20" height="2" fill="#fff"/>
<rect x="1280" y="20" width="2" height="6" fill="#fff"/>
<path d="M1272 8 L1282 14.5 L1272 21 Z" fill="#fff" shape-rendering="auto"/>
<rect x="1297" y="7" width="6" height="18" fill="none" stroke="#1878c8" stroke-width="2"/>
<rect x="1300" y="14" width="10" height="4" fill="#1878c8"/>
<path d="M1308 10 L1316 16 L1308 22 Z" fill="#1878c8" shape-rendering="auto"/>
</g>
<g shape-rendering="crispEdges">
<rect x="0" y="0" width="40" height="427" fill="#e3e5ed"/>
<rect x="0" y="100" width="40" height="2" fill="#d3dae2"/>
<rect x="0" y="194" width="40" height="2" fill="#d3dae2"/>
<rect x="0" y="298" width="40" height="2" fill="#d3dae2"/>
<rect x="0" y="102" width="38" height="92" fill="#ff6600"/>
<rect x="0" y="427" width="2" height="873" fill="#c8d1dc"/>
<rect x="38" y="427" width="2" height="873" fill="#c8d1dc"/>
<rect x="0" y="1298" width="40" height="2" fill="#c8d1dc"/>
</g>
<text x="19" y="34.5" font-size="24" fill="#2a3040" text-anchor="middle" class="song">分</text>
<text x="19" y="62.5" font-size="24" fill="#2a3040" text-anchor="middle" class="song">时</text>
<text x="19" y="90.5" font-size="24" fill="#2a3040" text-anchor="middle" class="song">图</text>
<text x="20.3" y="131.7" font-size="21" fill="#ffffff" text-anchor="middle" class="song" textLength="12.5" lengthAdjust="spacingAndGlyphs">K</text>
<text x="19" y="161.5" font-size="24" fill="#ffffff" text-anchor="middle" class="song">线</text>
<text x="19" y="189.5" font-size="24" fill="#ffffff" text-anchor="middle" class="song">图</text>
<text x="19" y="230.5" font-size="24" fill="#2a3040" text-anchor="middle" class="song">闪</text>
<text x="19" y="258.5" font-size="24" fill="#2a3040" text-anchor="middle" class="song">电</text>
<text x="19" y="286.5" font-size="24" fill="#2a3040" text-anchor="middle" class="song">图</text>
<text x="19" y="334.5" font-size="24" fill="#2a3040" text-anchor="middle" class="song">合</text>
<text x="19" y="362.5" font-size="24" fill="#2a3040" text-anchor="middle" class="song">约</text>
<text x="19" y="390.5" font-size="24" fill="#2a3040" text-anchor="middle" class="song">资</text>
<text x="19" y="418.5" font-size="24" fill="#2a3040" text-anchor="middle" class="song">料</text>
<g shape-rendering="crispEdges">
<rect x="56" y="1000" width="2" height="4" fill="#ff0000"/>
<rect x="56" y="1024" width="2" height="4" fill="#ff0000"/>
<rect x="44" y="1012" width="4" height="2" fill="#ff0000"/>
<rect x="68" y="1012" width="4" height="2" fill="#ff0000"/>
<rect x="46" y="1002" width="2" height="2" fill="#ff0000"/>
<rect x="48" y="1004" width="2" height="2" fill="#ff0000"/>
<rect x="68" y="1002" width="2" height="2" fill="#ff0000"/>
<rect x="66" y="1004" width="2" height="2" fill="#ff0000"/>
<rect x="48" y="1022" width="2" height="2" fill="#ff0000"/>
<rect x="46" y="1024" width="2" height="2" fill="#ff0000"/>
<rect x="66" y="1022" width="2" height="2" fill="#ff0000"/>
<rect x="68" y="1024" width="2" height="2" fill="#ff0000"/>
<path d="M54 1006 H62 V1008 H64 V1010 H66 V1018 H64 V1020 H62 V1022 H54 V1020 H52 V1018 H50 V1010 H52 V1008 H54 Z M54 1008 V1010 H52 V1018 H54 V1020 H62 V1018 H64 V1010 H62 V1008 Z" fill="#000" fill-rule="evenodd"/>
<path d="M56 1010 H60 V1012 H62 V1016 H60 V1018 H56 V1016 H54 V1012 H56 Z" fill="#ff0000"/>
</g>
<g shape-rendering="crispEdges">
<rect x="244" y="1230" width="2" height="8" fill="#c6ced8"/>
<rect x="640" y="1230" width="2" height="8" fill="#c6ced8"/>
<rect x="1054" y="1230" width="2" height="8" fill="#c6ced8"/>
</g>
<text x="249" y="1253" font-size="24" fill="#2a3048" text-anchor="start" font-weight="bold" class="ls" textLength="88" lengthAdjust="spacingAndGlyphs">2025/09</text>
<text x="644.5" y="1253" font-size="24" fill="#2a3048" text-anchor="start" font-weight="bold" class="ls" textLength="88" lengthAdjust="spacingAndGlyphs">2025/10</text>
<text x="1058.5" y="1253" font-size="24" fill="#2a3048" text-anchor="start" font-weight="bold" class="ls" textLength="87" lengthAdjust="spacingAndGlyphs">2025/11</text>
<g shape-rendering="crispEdges">
<rect x="40" y="1228" width="140" height="2" fill="#c8d1dc"/>
<rect x="40" y="1228" width="2" height="40" fill="#c8d1dc"/>
<rect x="178" y="1228" width="2" height="40" fill="#c8d1dc"/>
<rect x="40" y="1266" width="140" height="2" fill="#c8d1dc"/>
</g>
<text x="68" y="1259.5" font-size="25" font-weight="bold" fill="#ff8000" class="cjk" textLength="50" lengthAdjust="spacingAndGlyphs">日线</text>
<path d="M137.5 1242 L146 1257 L129 1257 Z" fill="#ff8000"/>
<g shape-rendering="crispEdges">
<rect x="40" y="1268" width="1422" height="2" fill="#c8d1dc"/>
<rect x="118" y="1268" width="2" height="32" fill="#c8d1dc"/>
<rect x="198" y="1268" width="2" height="32" fill="#c8d1dc"/>
<rect x="314" y="1268" width="2" height="32" fill="#c8d1dc"/>
<rect x="466" y="1268" width="2" height="32" fill="#c8d1dc"/>
<rect x="582" y="1268" width="2" height="32" fill="#c8d1dc"/>
<rect x="698" y="1268" width="2" height="32" fill="#c8d1dc"/>
<rect x="802" y="1268" width="2" height="32" fill="#c8d1dc"/>
<rect x="906" y="1268" width="2" height="32" fill="#c8d1dc"/>
<rect x="1046" y="1268" width="2" height="32" fill="#c8d1dc"/>
<rect x="1102" y="1268" width="2" height="32" fill="#c8d1dc"/>
<rect x="1102" y="1298" width="360" height="2" fill="#c8d1dc"/>
<rect x="200" y="1268" width="114" height="30" fill="#ff6600"/>
</g>
<text x="56" y="1293" font-size="24" fill="#2a3040" class="song" textLength="46" lengthAdjust="spacingAndGlyphs">指标</text>
<text x="136" y="1293" font-size="24" fill="#2a3040" class="song" textLength="46" lengthAdjust="spacingAndGlyphs">模板</text>
<text x="217" y="1292" font-size="24" fill="#fff" class="mono" textLength="34" lengthAdjust="spacingAndGlyphs">VIP</text>
<text x="252" y="1293" font-size="24" fill="#fff" class="song" textLength="46" lengthAdjust="spacingAndGlyphs">指标</text>
<text x="332" y="1292" font-size="24" fill="#2a3040" class="mono" textLength="118" lengthAdjust="spacingAndGlyphs">BARUPDN_UD</text>
<text x="484" y="1292" font-size="24" fill="#2a3040" class="mono" textLength="82" lengthAdjust="spacingAndGlyphs">BIAS_UD</text>
<text x="600" y="1292" font-size="24" fill="#2a3040" class="mono" textLength="82" lengthAdjust="spacingAndGlyphs">BOLL_UD</text>
<text x="716" y="1292" font-size="24" fill="#2a3040" class="mono" textLength="70" lengthAdjust="spacingAndGlyphs">CCI_UD</text>
<text x="820" y="1292" font-size="24" fill="#2a3040" class="mono" textLength="70" lengthAdjust="spacingAndGlyphs">DMI_UD</text>
<text x="924" y="1292" font-size="24" fill="#2a3040" class="mono" textLength="106" lengthAdjust="spacingAndGlyphs">INSIDE_UD</text>
<text x="1064" y="1292" font-size="24" fill="#2a3040" class="mono" textLength="22" lengthAdjust="spacingAndGlyphs">&gt;&gt;</text>
<defs><filter id="wb" x="-10%" y="-20%" width="120%" height="140%"><feGaussianBlur stdDeviation="0.7"/></filter></defs>
<text x="1333.1" y="1275.9" font-size="31.5" fill="#b09a84" class="ls" textLength="99" lengthAdjust="spacing" opacity=".6" filter="url(#wb)">FX678</text>
<text x="1332.5" y="1275" font-size="31.5" fill="#d6e2f4" class="ls" textLength="99" lengthAdjust="spacing">FX678</text>
</svg>
</body></html>
